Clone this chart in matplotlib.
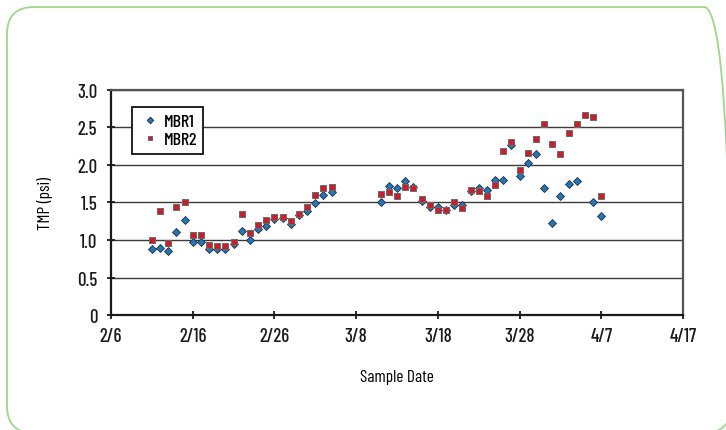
import datetime as dt
import matplotlib
matplotlib.use("Agg")
import matplotlib.pyplot as plt
import matplotlib.dates as mdates
from matplotlib.patches import FancyBboxPatch
from matplotlib.ticker import FuncFormatter

plt.rcParams['font.family'] = ['Barlow Condensed', 'Roboto Condensed', 'DejaVu Sans']
plt.rcParams['font.weight'] = 500

YEAR = 2006

# MBR1 samples (month/day)
mbr1_dates = ["2/11", "2/12", "2/13", "2/14", "2/15", "2/16", "2/17", "2/18", "2/19", "2/20",
              "2/21", "2/22", "2/23", "2/24", "2/25", "2/26", "2/27", "2/28", "3/1", "3/2",
              "3/3", "3/4", "3/5",
              "3/11", "3/12", "3/13", "3/14", "3/15", "3/16", "3/17", "3/18", "3/19", "3/20",
              "3/21", "3/22", "3/23", "3/24", "3/25", "3/26", "3/27", "3/28", "3/29", "3/30",
              "3/31", "4/1", "4/2", "4/3", "4/4", "4/6", "4/7"]
mbr1_tmp = [0.88, 0.89, 0.86, 1.11, 1.26, 0.97, 0.97, 0.88, 0.88, 0.88,
            0.95, 1.12, 1.00, 1.14, 1.19, 1.28, 1.29, 1.21, 1.33, 1.39,
            1.49, 1.60, 1.64,
            1.51, 1.72, 1.69, 1.78, 1.70, 1.52, 1.44, 1.44, 1.40, 1.47,
            1.46, 1.65, 1.69, 1.66, 1.80, 1.80, 2.26, 1.85, 2.03, 2.15,
            1.69, 1.22, 1.59, 1.74, 1.78, 1.51, 1.32]

# MBR2 samples
mbr2_dates = ["2/11", "2/12", "2/13", "2/14", "2/15", "2/16", "2/17", "2/18", "2/19", "2/20",
              "2/21", "2/22", "2/23", "2/24", "2/25", "2/26", "2/27", "2/28", "3/1", "3/2",
              "3/3", "3/4", "3/5",
              "3/11", "3/12", "3/13", "3/14", "3/15", "3/16", "3/17", "3/18", "3/19", "3/20",
              "3/21", "3/22", "3/23", "3/24", "3/25", "3/26", "3/27", "3/28", "3/29", "3/30",
              "3/31", "4/1", "4/2", "4/3", "4/4", "4/5", "4/6", "4/7"]
mbr2_tmp = [1.00, 1.38, 0.96, 1.44, 1.50, 1.07, 1.07, 0.94, 0.92, 0.92,
            0.98, 1.34, 1.09, 1.20, 1.26, 1.31, 1.31, 1.25, 1.35, 1.44,
            1.60, 1.69, 1.71,
            1.61, 1.64, 1.58, 1.71, 1.69, 1.55, 1.46, 1.40, 1.40, 1.50,
            1.42, 1.67, 1.65, 1.58, 1.73, 2.19, 2.31, 1.93, 2.16, 2.34,
            2.55, 2.28, 2.14, 2.43, 2.55, 2.67, 2.64, 1.58]

yticks = [0, 0.5, 1.0, 1.5, 2.0, 2.5, 3.0]


def to_date(s):
    m, d = s.split("/")
    return dt.datetime(YEAR, int(m), int(d))


x1 = [to_date(s) for s in mbr1_dates]
x2 = [to_date(s) for s in mbr2_dates]

fig = plt.figure(figsize=(7.26, 4.31), dpi=100)

# green rounded frame
frame = FancyBboxPatch((0.07, -0.03), 7.24, 4.26,
                       boxstyle="round,pad=0,rounding_size=0.27",
                       transform=fig.dpi_scale_trans, fill=False,
                       edgecolor="#9fd68c", linewidth=1.3)
fig.add_artist(frame)

ax = fig.add_axes([0.1529, 0.2668, 0.7879, 0.5221])

ax.plot(x1, mbr1_tmp, linestyle="none", marker="D", ms=4.5, color="#1f78b8",
        markeredgecolor="#2a2a3a", markeredgewidth=0.6, label="MBR1", zorder=3)
ax.plot(x2, mbr2_tmp, linestyle="none", marker="s", ms=4.7, color="#c81e2e",
        markeredgecolor="#6a6a6a", markeredgewidth=0.7, label="MBR2", zorder=3)

ax.set_xlim(dt.datetime(YEAR, 2, 6), dt.datetime(YEAR, 4, 17))
ax.set_ylim(0, 3.0)
ax.set_yticks(yticks)
ax.yaxis.set_major_formatter(FuncFormatter(lambda v, p: "0" if v == 0 else f"{v:.1f}"))
ticks = [dt.datetime(YEAR, 2, 6) + dt.timedelta(days=10 * i) for i in range(8)]
ax.set_xticks(ticks)
ax.xaxis.set_major_formatter(FuncFormatter(
    lambda v, p: f"{mdates.num2date(v).month}/{mdates.num2date(v).day}"))

ax.grid(axis="y", color="#3a3a3a", linewidth=1.0)
ax.set_axisbelow(True)
for side in ["left", "bottom"]:
    ax.spines[side].set_linewidth(1.6)
    ax.spines[side].set_color("#1a1a1a")
for side in ["top", "right"]:
    ax.spines[side].set_linewidth(1.6)
    ax.spines[side].set_color("#555555")

ax.tick_params(axis="both", direction="inout", length=5.8, width=1.3, labelsize=13.5, colors="#1a1a1a")
ax.tick_params(axis="x", pad=6)
ax.tick_params(axis="y", pad=7)

ax.set_xlabel("Sample Date", fontsize=12.5, labelpad=17)
ax.set_ylabel("TMP (psi)", fontsize=12.5, labelpad=17)

leg = ax.legend(loc="upper left", bbox_to_anchor=(0.037, 0.924), borderaxespad=0,
                fancybox=False, framealpha=1, edgecolor="#111111", fontsize=13,
                handletextpad=0.1, handlelength=1.3, borderpad=0.35, labelspacing=0.15,
                markerscale=0.75)
leg.get_frame().set_linewidth(1.3)

fig.savefig("out.png", dpi=100)
